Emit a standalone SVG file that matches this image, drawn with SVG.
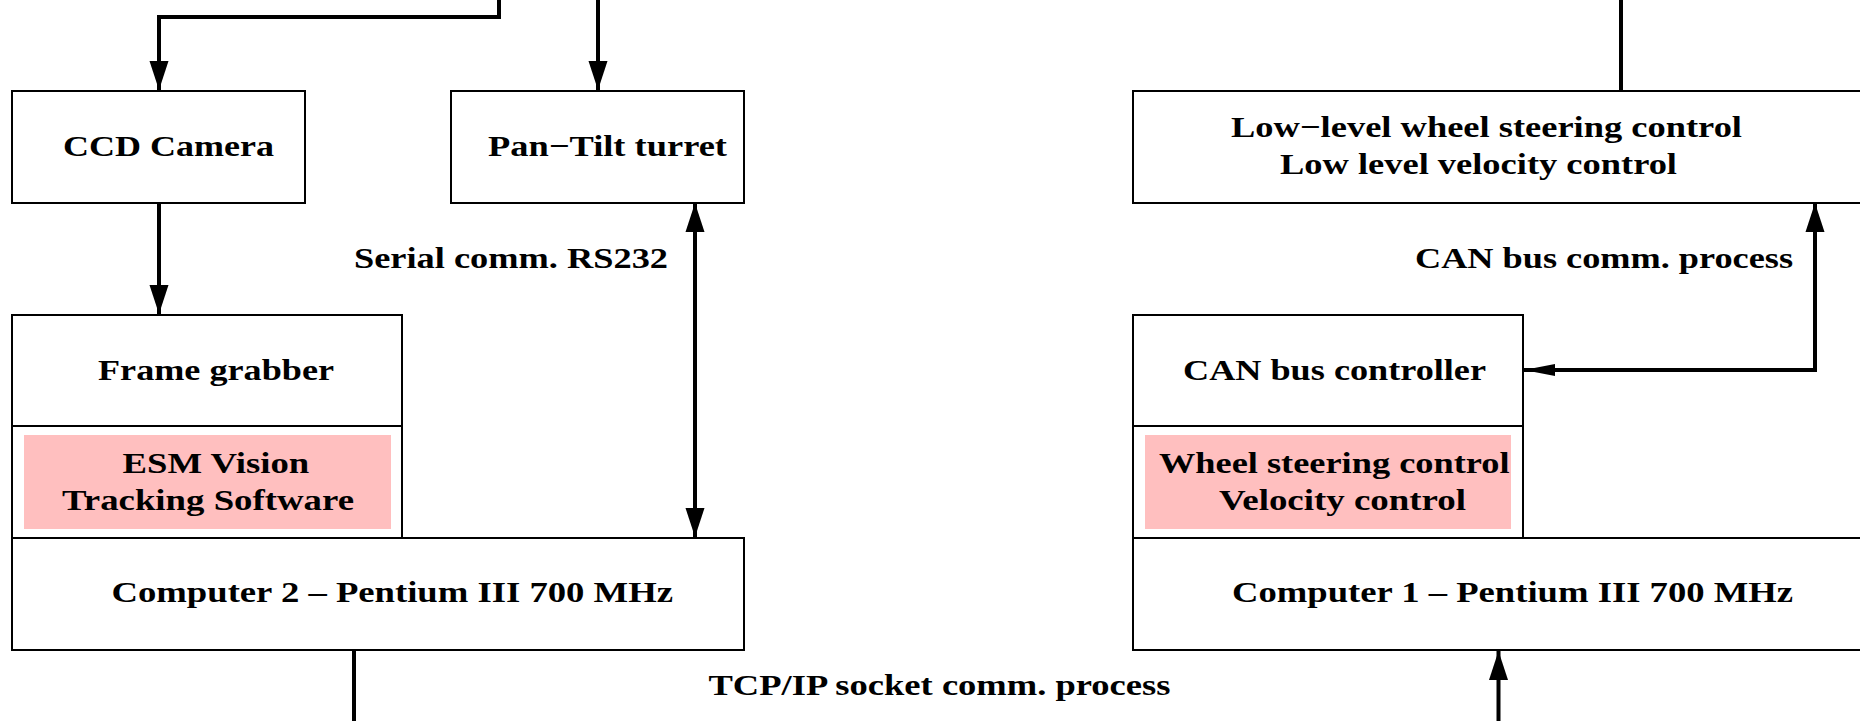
<svg xmlns="http://www.w3.org/2000/svg" width="1860" height="721" viewBox="0 0 1860 721">
<style>
.box{fill:#ffffff;stroke:#000;stroke-width:2}
.pink{fill:#ffbfbf;stroke:none}
.div{stroke:#000;stroke-width:2;fill:none}
.con{stroke:#000;stroke-width:4;fill:none}
text{font-family:"Liberation Serif","Times New Roman",serif;font-weight:bold;font-size:30px;fill:#000}
</style>
<defs>
<marker id="arrV" markerUnits="userSpaceOnUse" markerWidth="32" markerHeight="22" refX="29" refY="10" orient="auto-start-reverse">
<path d="M0,0.5 L29,10 L0,19.5 z" fill="#000"/>
</marker>
<marker id="arrH" markerUnits="userSpaceOnUse" markerWidth="34" markerHeight="14" refX="31" refY="7" orient="auto-start-reverse">
<path d="M0,1 L31,7 L0,13 z" fill="#000"/>
</marker>
</defs>
<rect width="1860" height="721" fill="#fff"/>

<g id="ccd-camera">
<rect class="box" x="12" y="91" width="293" height="112"/>
<text x="63" y="156" textLength="211" lengthAdjust="spacingAndGlyphs">CCD Camera</text>
</g>
<g id="pan-tilt">
<rect class="box" x="451" y="91" width="293" height="112"/>
<text x="488" y="156" textLength="239" lengthAdjust="spacingAndGlyphs">Pan−Tilt turret</text>
</g>
<g id="frame-grabber">
<rect class="box" x="12" y="315" width="390" height="223"/>
<line class="div" x1="12" y1="426" x2="402" y2="426"/>
<text x="98" y="380" textLength="236" lengthAdjust="spacingAndGlyphs">Frame grabber</text>
</g>
<g id="esm-software">
<rect class="pink" x="24" y="435" width="367" height="94"/>
<text x="122.6" y="472.7" textLength="186.6" lengthAdjust="spacingAndGlyphs">ESM Vision</text>
<text x="62" y="510" textLength="292" lengthAdjust="spacingAndGlyphs">Tracking Software</text>
</g>
<g id="computer2">
<rect class="box" x="12" y="538" width="732" height="112"/>
<text x="111.5" y="602.3" textLength="561.5" lengthAdjust="spacingAndGlyphs">Computer 2 – Pentium III 700 MHz</text>
</g>

<g id="low-level">
<rect class="box" x="1133" y="91" width="740" height="112"/>
<text x="1231" y="137" textLength="511" lengthAdjust="spacingAndGlyphs">Low−level wheel steering control</text>
<text x="1280" y="174" textLength="397" lengthAdjust="spacingAndGlyphs">Low level velocity control</text>
</g>
<g id="can-controller">
<rect class="box" x="1133" y="315" width="390" height="223"/>
<line class="div" x1="1133" y1="426" x2="1523" y2="426"/>
<text x="1183" y="380" textLength="303" lengthAdjust="spacingAndGlyphs">CAN bus controller</text>
</g>
<g id="wheel-software">
<rect class="pink" x="1145" y="435" width="366" height="94"/>
<text x="1159" y="472.7" textLength="350.5" lengthAdjust="spacingAndGlyphs">Wheel steering control</text>
<text x="1219" y="510" textLength="247" lengthAdjust="spacingAndGlyphs">Velocity control</text>
</g>
<g id="computer1">
<rect class="box" x="1133" y="538" width="740" height="112"/>
<text x="1232" y="602.3" textLength="561" lengthAdjust="spacingAndGlyphs">Computer 1 – Pentium III 700 MHz</text>
</g>

<g id="connectors">
<path class="con" d="M499,0 V17 H159 V90" marker-end="url(#arrV)"/>
<path class="con" d="M598,0 V90" marker-end="url(#arrV)"/>
<path class="con" d="M159,204 V314" marker-end="url(#arrV)"/>
<path class="con" d="M695,203 V537" marker-start="url(#arrV)" marker-end="url(#arrV)"/>
<path class="con" d="M354,651 V721"/>
<path class="con" d="M1621,0 V90"/>
<path class="con" d="M1815,203 V370 H1524" marker-start="url(#arrV)" marker-end="url(#arrH)"/>
<path class="con" d="M1498.5,721 V651" marker-end="url(#arrV)"/>
<text x="354" y="268" textLength="314" lengthAdjust="spacingAndGlyphs">Serial comm. RS232</text>
<text x="1415" y="268" textLength="378" lengthAdjust="spacingAndGlyphs">CAN bus comm. process</text>
<text x="708.5" y="695" textLength="462" lengthAdjust="spacingAndGlyphs">TCP/IP socket comm. process</text>
</g>
</svg>
